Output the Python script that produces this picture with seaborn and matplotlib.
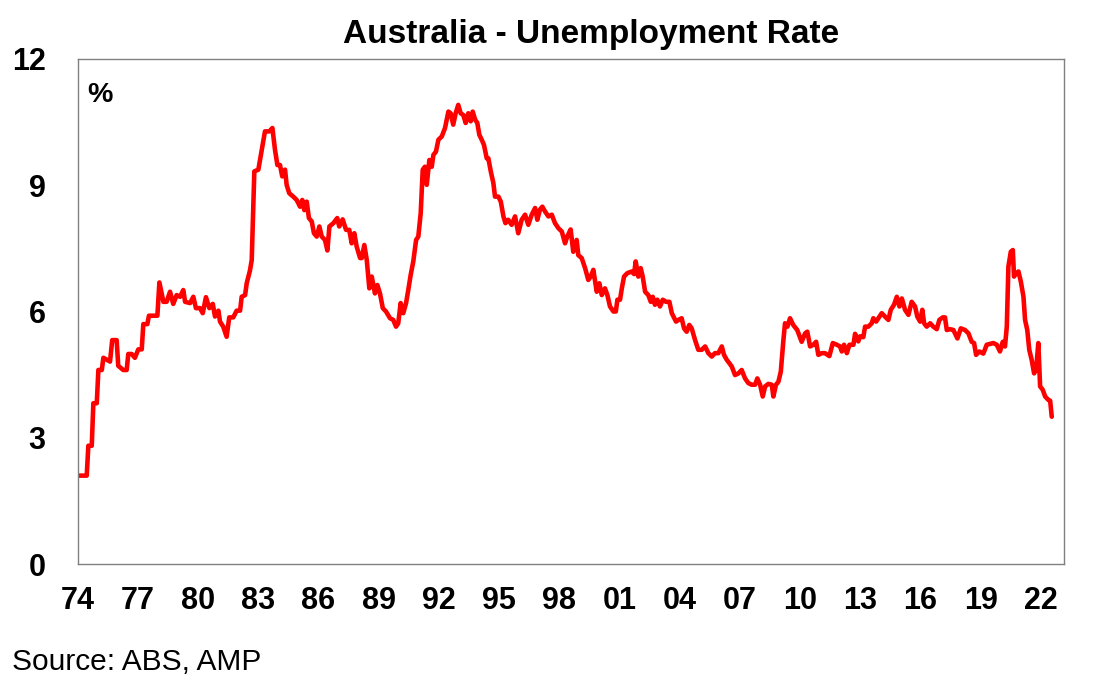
import matplotlib
matplotlib.use("Agg")
import matplotlib.pyplot as plt
import seaborn as sns
import pandas as pd

# ---- data (decimal year, unemployment rate %) ----
years = [
    1974.00, 1974.46, 1974.54, 1974.71, 1974.79, 1974.96, 1975.04, 1975.21, 1975.29, 1975.62,
    1975.73, 1975.95, 1976.03, 1976.28, 1976.45, 1976.53, 1976.70, 1976.86, 1977.03, 1977.20,
    1977.28, 1977.48, 1977.56, 1977.98, 1978.08, 1978.28, 1978.44, 1978.61, 1978.77, 1978.94,
    1979.11, 1979.27, 1979.36, 1979.61, 1979.77, 1979.90, 1980.10, 1980.24, 1980.40, 1980.57,
    1980.74, 1980.85, 1981.02, 1981.10, 1981.26, 1981.43, 1981.56, 1981.76, 1981.93, 1982.10,
    1982.18, 1982.35, 1982.43, 1982.59, 1982.68, 1982.81, 1983.01, 1983.18, 1983.34, 1983.56,
    1983.71, 1983.84, 1983.96, 1984.09, 1984.20, 1984.34, 1984.42, 1984.55, 1984.75, 1984.92,
    1985.09, 1985.20, 1985.30, 1985.42, 1985.53, 1985.67, 1985.78, 1985.92, 1986.05, 1986.17,
    1986.33, 1986.45, 1986.55, 1986.75, 1986.94, 1987.04, 1987.21, 1987.38, 1987.54, 1987.66,
    1987.79, 1987.91, 1988.08, 1988.16, 1988.29, 1988.41, 1988.54, 1988.66, 1988.82, 1988.94,
    1989.07, 1989.21, 1989.37, 1989.57, 1989.73, 1989.87, 1989.98, 1990.10, 1990.23, 1990.37,
    1990.48, 1990.60, 1990.73, 1990.87, 1990.98, 1991.10, 1991.20, 1991.31, 1991.40, 1991.53,
    1991.65, 1991.73, 1991.86, 1991.98, 1992.15, 1992.31, 1992.48, 1992.59, 1992.72, 1992.84,
    1992.97, 1993.09, 1993.22, 1993.34, 1993.47, 1993.59, 1993.69, 1993.81, 1993.92, 1994.02,
    1994.14, 1994.25, 1994.39, 1994.47, 1994.59, 1994.72, 1994.80, 1994.97, 1995.09, 1995.22,
    1995.32, 1995.46, 1995.63, 1995.80, 1995.96, 1996.13, 1996.30, 1996.46, 1996.63, 1996.80,
    1996.91, 1997.04, 1997.16, 1997.29, 1997.46, 1997.63, 1997.79, 1997.96, 1998.13, 1998.29,
    1998.40, 1998.57, 1998.70, 1998.87, 1998.95, 1999.12, 1999.29, 1999.45, 1999.57, 1999.70,
    1999.87, 2000.00, 2000.12, 2000.28, 2000.40, 2000.53, 2000.70, 2000.82, 2000.90, 2001.03,
    2001.12, 2001.23, 2001.39, 2001.61, 2001.73, 2001.81, 2001.94, 2002.06, 2002.16, 2002.28,
    2002.44, 2002.56, 2002.66, 2002.77, 2002.89, 2003.02, 2003.16, 2003.32, 2003.49, 2003.61,
    2003.82, 2003.94, 2004.10, 2004.22, 2004.35, 2004.48, 2004.60, 2004.77, 2004.93, 2005.10,
    2005.27, 2005.43, 2005.60, 2005.76, 2005.93, 2006.10, 2006.21, 2006.35, 2006.48, 2006.60,
    2006.76, 2006.93, 2007.09, 2007.26, 2007.42, 2007.59, 2007.76, 2007.87, 2008.01, 2008.14,
    2008.26, 2008.42, 2008.59, 2008.67, 2008.80, 2008.92, 2009.04, 2009.17, 2009.25, 2009.37,
    2009.50, 2009.66, 2009.86, 2010.08, 2010.25, 2010.36, 2010.50, 2010.66, 2010.80, 2010.91,
    2011.08, 2011.24, 2011.46, 2011.63, 2011.83, 2011.99, 2012.08, 2012.19, 2012.33, 2012.46,
    2012.66, 2012.74, 2012.90, 2012.99, 2013.15, 2013.24, 2013.40, 2013.57, 2013.65, 2013.79,
    2013.90, 2014.07, 2014.23, 2014.40, 2014.52, 2014.68, 2014.82, 2014.95, 2015.07, 2015.23,
    2015.40, 2015.56, 2015.73, 2015.84, 2015.98, 2016.09, 2016.18, 2016.31, 2016.48, 2016.64,
    2016.81, 2016.94, 2017.11, 2017.22, 2017.31, 2017.47, 2017.64, 2017.84, 2018.01, 2018.22,
    2018.39, 2018.55, 2018.67, 2018.77, 2018.93, 2019.13, 2019.30, 2019.46, 2019.63, 2019.80,
    2019.96, 2020.10, 2020.21, 2020.30, 2020.38, 2020.50, 2020.60, 2020.66, 2020.76, 2020.88,
    2021.00, 2021.13, 2021.21, 2021.32, 2021.42, 2021.54, 2021.66, 2021.76, 2021.87, 2021.96,
    2022.09, 2022.21, 2022.37, 2022.46, 2022.54,
]

rates = [
    2.10, 2.10, 2.81, 2.81, 3.82, 3.82, 4.61, 4.61, 4.90, 4.81,
    5.32, 5.32, 4.71, 4.61, 4.61, 4.99, 4.99, 4.90, 5.10, 5.10,
    5.70, 5.70, 5.90, 5.90, 6.69, 6.23, 6.23, 6.47, 6.18, 6.39,
    6.35, 6.51, 6.23, 6.20, 6.35, 6.08, 6.08, 5.96, 6.34, 6.08,
    6.18, 5.88, 6.02, 5.76, 5.64, 5.40, 5.86, 5.86, 6.02, 6.02,
    6.35, 6.39, 6.67, 6.97, 7.22, 9.33, 9.37, 9.84, 10.28, 10.28,
    10.36, 9.84, 9.48, 9.48, 9.21, 9.37, 9.01, 8.81, 8.73, 8.65,
    8.49, 8.65, 8.41, 8.61, 8.22, 8.14, 7.86, 7.78, 8.02, 7.78,
    7.70, 7.45, 8.02, 8.10, 8.22, 8.02, 8.19, 7.94, 7.94, 7.62,
    7.86, 7.54, 7.27, 7.27, 7.58, 7.23, 6.55, 6.83, 6.43, 6.63,
    6.43, 6.08, 6.00, 5.84, 5.80, 5.64, 5.72, 6.20, 5.96, 6.20,
    6.51, 6.87, 7.19, 7.70, 7.78, 8.34, 9.37, 9.44, 9.01, 9.60,
    9.44, 9.72, 9.80, 10.08, 10.16, 10.36, 10.75, 10.71, 10.44, 10.71,
    10.91, 10.71, 10.67, 10.48, 10.71, 10.52, 10.75, 10.56, 10.48, 10.20,
    10.08, 9.96, 9.64, 9.64, 9.33, 9.05, 8.73, 8.73, 8.61, 8.26,
    8.10, 8.18, 8.06, 8.26, 7.86, 8.18, 8.30, 8.06, 8.30, 8.46,
    8.18, 8.42, 8.49, 8.38, 8.26, 8.30, 8.10, 7.98, 7.90, 7.62,
    7.78, 7.95, 7.42, 7.70, 7.34, 7.27, 7.03, 6.75, 6.83, 6.99,
    6.47, 6.67, 6.39, 6.55, 6.39, 6.12, 6.00, 6.00, 6.28, 6.28,
    6.55, 6.83, 6.91, 6.95, 6.89, 7.19, 6.83, 7.03, 6.83, 6.47,
    6.39, 6.23, 6.35, 6.16, 6.28, 6.12, 6.28, 6.23, 6.23, 5.96,
    5.76, 5.80, 5.84, 5.60, 5.52, 5.68, 5.60, 5.32, 5.09, 5.09,
    5.17, 5.01, 4.93, 5.01, 5.01, 5.17, 4.97, 4.85, 4.77, 4.69,
    4.49, 4.53, 4.61, 4.41, 4.30, 4.26, 4.26, 4.41, 4.26, 3.98,
    4.22, 4.28, 4.26, 3.98, 4.26, 4.33, 4.57, 5.32, 5.72, 5.64,
    5.84, 5.68, 5.56, 5.28, 5.48, 5.52, 5.17, 5.21, 5.28, 4.97,
    5.01, 5.01, 4.94, 5.25, 5.21, 5.17, 5.05, 5.21, 5.01, 5.21,
    5.21, 5.47, 5.29, 5.41, 5.39, 5.64, 5.64, 5.72, 5.84, 5.76,
    5.84, 5.96, 5.88, 5.80, 6.04, 6.16, 6.35, 6.12, 6.31, 6.04,
    5.92, 6.23, 6.12, 5.88, 5.76, 6.04, 5.72, 5.64, 5.72, 5.64,
    5.58, 5.80, 5.86, 5.86, 5.56, 5.58, 5.56, 5.36, 5.60, 5.56,
    5.48, 5.28, 5.25, 4.97, 5.05, 5.00, 5.21, 5.23, 5.25, 5.21,
    5.05, 5.28, 5.17, 5.64, 7.07, 7.42, 7.46, 6.83, 6.91, 6.95,
    6.71, 6.35, 5.80, 5.56, 5.09, 4.85, 4.53, 4.61, 5.25, 4.22,
    4.14, 3.98, 3.90, 3.88, 3.50,
]

x_ticks = [1974, 1977, 1980, 1983, 1986, 1989, 1992, 1995, 1998, 2001,
           2004, 2007, 2010, 2013, 2016, 2019, 2022]
x_tick_labels = ["74", "77", "80", "83", "86", "89", "92", "95", "98", "01",
                 "04", "07", "10", "13", "16", "19", "22"]
y_ticks = [0, 3, 6, 9, 12]

title = "Australia - Unemployment Rate"
unit_label = "%"
source = "Source: ABS, AMP"

# ---- style ----
sns.set_theme(style="white")
plt.rcParams['font.family'] = ['Liberation Sans', 'DejaVu Sans']

W, H = 1104, 692
fig = plt.figure(figsize=(W / 100, H / 100), dpi=100)
fig.patch.set_facecolor("white")

left_px, right_px, top_px, bottom_px = 77.5, 1064.0, 59.0, 564.0
ax = fig.add_axes([left_px / W, 1 - bottom_px / H,
                   (right_px - left_px) / W, (bottom_px - top_px) / H])

df = pd.DataFrame({"year": years, "rate": rates})
sns.lineplot(data=df, x="year", y="rate", ax=ax, color="#ff0000",
             linewidth=3.3, sort=False, legend=False)

ax.set_xlim(1974, 2023.15)
ax.set_ylim(0, 12)
ax.set_xticks(x_ticks)
ax.set_xticklabels(x_tick_labels, fontsize=22, fontweight="bold")
ax.set_yticks(y_ticks)
ax.set_yticklabels([str(v) for v in y_ticks], fontsize=22, fontweight="bold")
ax.set_xlabel("")
ax.set_ylabel("")
ax.grid(False)

spine_color = "#808080"
for s in ax.spines.values():
    s.set_visible(True)
    s.set_color(spine_color)
    s.set_linewidth(1.0)

ax.tick_params(axis="x", direction="in", length=7, width=1, color=spine_color,
               pad=16, labelcolor="black")
ax.tick_params(axis="y", direction="out", length=8, width=1, color=spine_color,
               pad=15, labelcolor="black")
ax.tick_params(top=False, right=False)

fig.text(590.7 / W, 1 - 43.3 / H, title, ha="center", va="baseline",
         fontsize=24, fontweight="bold", color="black")
fig.text(87 / W, 1 - 101.7 / H, unit_label, ha="left", va="baseline",
         fontsize=20.5, fontweight="bold", color="black")
fig.text(12 / W, 1 - 670 / H, source, ha="left", va="baseline",
         fontsize=21.5, color="black")

fig.savefig("out.png", dpi=100, facecolor="white")
